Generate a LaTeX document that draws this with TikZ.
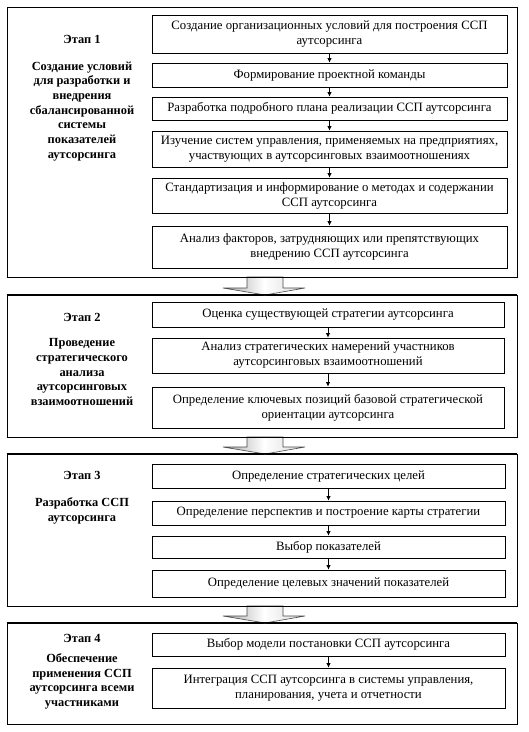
\documentclass[tikz,border=0pt]{standalone}
\usepackage{fontspec}
\setmainfont{Liberation Serif}
\usetikzlibrary{arrows.meta}
\begin{document}
\begin{tikzpicture}[x=1pt,y=-1pt,
  stagebox/.style={draw=black, line width=0.9pt},
  stepbox/.style={draw=black, line width=0.9pt, minimum width=355pt, inner sep=0pt, align=center,
    font=\fontsize{12.75}{15}\selectfont},
  stagelabel/.style={align=center, font=\fontsize{12.4}{14.7}\selectfont\bfseries},
  link/.style={draw=black, line width=0.7pt, -{Latex[length=4.5pt,width=4.5pt]}},
  bigarrow/.style={draw=black!70, line width=0.6pt, left color=black!35, right color=black!15, middle color=white}]
\useasboundingbox (0,0) rectangle (529,732);
\fill[white] (0,0) rectangle (529,732);

% Stage frames
\node[stagebox, minimum width=510pt, minimum height=270pt, inner sep=0pt] (s1) at (262,142) {};
\node[stagebox, minimum width=510pt, minimum height=142pt, inner sep=0pt] (s2) at (262,366) {};
\node[stagebox, minimum width=510pt, minimum height=152pt, inner sep=0pt] (s3) at (262,530) {};
\node[stagebox, minimum width=510pt, minimum height=101pt, inner sep=0pt] (s4) at (262,673.5) {};

% Big arrows between stages
\coordinate (a1) at (265,277);
\coordinate (a2) at (265,437);
\coordinate (a3) at (265,606);
\foreach \c/\len in {a1/18, a2/17, a3/17}{
  \path[bigarrow] ([xshift=-18pt]\c) -- ([xshift=18pt]\c) -- ([xshift=18pt,yshift=-\len pt+7pt]\c)
    -- ([xshift=40pt,yshift=-\len pt+7pt]\c) -- ([yshift=-\len pt]\c) -- ([xshift=-42pt,yshift=-\len pt+7pt]\c)
    -- ([xshift=-18pt,yshift=-\len pt+7pt]\c) -- cycle;
}
\draw[stagebox] (s1.south west) -- (s1.south east);
\draw[stagebox] (s2.north west) -- (s2.north east) (s2.south west) -- (s2.south east);
\draw[stagebox] (s3.north west) -- (s3.north east) (s3.south west) -- (s3.south east);
\draw[stagebox] (s4.north west) -- (s4.north east);

% Stage labels
\node[stagelabel] (e1) at (82,39) {Этап 1};
\node[stagelabel, anchor=north] (t1) at (82,58) {Создание условий\\для разработки и\\внедрения\\сбалансированной\\системы\\показателей\\аутсорсинга};
\node[stagelabel] (e2) at (82,317) {Этап 2};
\node[stagelabel, anchor=north] (t2) at (82,335) {Проведение\\стратегического\\анализа\\аутсорсинговых\\взаимоотношений};
\node[stagelabel] (e3) at (82,475) {Этап 3};
\node[stagelabel, anchor=north] (t3) at (82,494) {Разработка ССП\\аутсорсинга};
\node[stagelabel] (e4) at (82,638) {Этап 4};
\node[stagelabel, anchor=north] (t4) at (82,650) {Обеспечение\\применения ССП\\аутсорсинга всеми\\участниками};

% Stage 1 steps
\node[stepbox, minimum height=38pt] (b11) at (329.5,34) {Создание организационных условий для построения ССП\\аутсорсинга};
\node[stepbox, minimum height=24pt] (b12) at (329.5,75) {Формирование проектной команды};
\node[stepbox, minimum height=23pt] (b13) at (329.5,108.5) {Разработка подробного плана реализации ССП аутсорсинга};
\node[stepbox, minimum height=36pt] (b14) at (329.5,149) {Изучение систем управления, применяемых на предприятиях,\\участвующих в аутсорсинговых взаимоотношениях};
\node[stepbox, minimum height=35pt] (b15) at (329.5,195.5) {Стандартизация и информирование о методах и содержании\\ССП аутсорсинга};
\node[stepbox, minimum height=42pt] (b16) at (329.5,247) {Анализ факторов, затрудняющих или препятствующих\\внедрению ССП аутсорсинга};

% Stage 2 steps
\node[stepbox, minimum width=352pt, minimum height=25pt] (b21) at (328,314.5) {Оценка существующей стратегии аутсорсинга};
\node[stepbox, minimum width=352pt, minimum height=35pt] (b22) at (328,355.5) {Анализ стратегических намерений участников\\аутсорсинговых взаимоотношений};
\node[stepbox, minimum width=352pt, minimum height=41pt] (b23) at (328,407.5) {Определение ключевых позиций базовой стратегической\\ориентации аутсорсинга};

% Stage 3 steps
\node[stepbox, minimum width=353pt, minimum height=24pt] (b31) at (328.5,476) {Определение стратегических целей};
\node[stepbox, minimum width=353pt, minimum height=24pt] (b32) at (328.5,513) {Определение перспектив и построение карты стратегии};
\node[stepbox, minimum width=353pt, minimum height=22pt] (b33) at (328.5,547) {Выбор показателей};
\node[stepbox, minimum width=353pt, minimum height=27pt] (b34) at (328.5,583.5) {Определение целевых значений показателей};

% Stage 4 steps
\node[stepbox, minimum width=353pt, minimum height=23pt] (b41) at (328.5,644.5) {Выбор модели постановки ССП аутсорсинга};
\node[stepbox, minimum width=353pt, minimum height=40pt] (b42) at (328.5,688) {Интеграция ССП аутсорсинга в системы управления,\\планирования, учета и отчетности};

% Connectors
\foreach \a/\b in {b11/b12, b12/b13, b13/b14, b14/b15, b15/b16, b21/b22, b22/b23, b31/b32, b32/b33, b33/b34, b41/b42}{
  \draw[link] (\a.south) -- (\b.north);
}
\end{tikzpicture}
\end{document}
